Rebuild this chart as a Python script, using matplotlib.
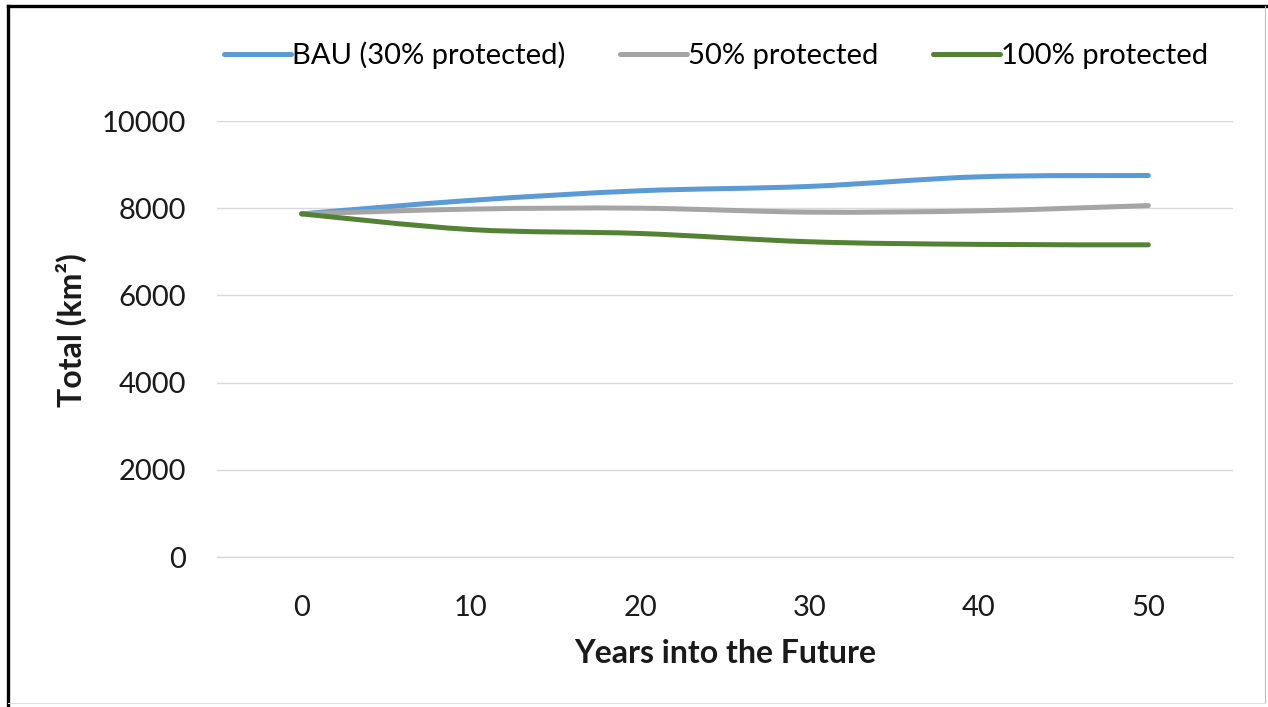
import numpy as np
import matplotlib
matplotlib.use("Agg")
import matplotlib.pyplot as plt
from matplotlib.path import Path
from matplotlib.patches import PathPatch
from matplotlib.lines import Line2D

plt.rcParams["font.family"] = ["Lato", "DejaVu Sans"]

years = [0, 10, 20, 30, 40, 50]
bau_30 = [7870, 8180, 8400, 8500, 8720, 8750]
prot_50 = [7870, 7980, 8000, 7910, 7940, 8060]
prot_100 = [7870, 7510, 7420, 7230, 7170, 7160]

series_names = ["BAU (30% protected)", "50% protected", "100% protected"]
series_colors = ["#5B9BD5", "#A5A5A5", "#548235"]


def smooth_path(xs, ys):
    # Excel-style smoothed line: Catmull-Rom segments as cubic Beziers
    pts = np.column_stack([xs, ys]).astype(float)
    ext = np.vstack([pts[0], pts, pts[-1]])
    verts = [pts[0]]
    codes = [Path.MOVETO]
    for i in range(1, len(ext) - 2):
        p0, p1, p2, p3 = ext[i - 1], ext[i], ext[i + 1], ext[i + 2]
        c1 = p1 + (p2 - p0) / 6.0
        c2 = p2 - (p3 - p1) / 6.0
        verts += [c1, c2, p2]
        codes += [Path.CURVE4] * 3
    return Path(verts, codes)


fig = plt.figure(figsize=(12.68, 7.07), dpi=100, facecolor="#FFFFFF")
ax = fig.add_axes([217 / 1268, 1 - 557 / 707, (1233 - 217) / 1268, (557 - 121) / 707])

xpos = np.arange(len(years))
for vals, color in zip([bau_30, prot_50, prot_100], series_colors):
    patch = PathPatch(smooth_path(xpos, vals), facecolor="none", edgecolor=color,
                      linewidth=3.6, capstyle="round", joinstyle="round", zorder=3)
    ax.add_patch(patch)

ax.set_xlim(-0.5, len(years) - 0.5)
ax.set_ylim(0, 10000)
ax.set_yticks(np.arange(0, 10001, 2000))
ax.set_xticks(xpos)
ax.set_xticklabels([str(y) for y in years])
ax.tick_params(axis="both", length=0, labelsize=21, colors="#1A1A1A")
ax.tick_params(axis="y", pad=22)
ax.tick_params(axis="x", pad=27)
ax.grid(True, axis="y", color="#D9D9D9", linewidth=1.0)
ax.set_axisbelow(True)
for side in ["top", "right", "left"]:
    ax.spines[side].set_visible(False)
ax.spines["bottom"].set_color("#D9D9D9")
ax.spines["bottom"].set_linewidth(1.0)

ax.set_xlabel("Years into the Future", fontsize=23, fontweight="bold", labelpad=13, color="#1A1A1A")
fig.text(71 / 1268, 1 - 330 / 707, "Total (km²)", rotation=90, ha="center", va="center",
         fontsize=23, fontweight="bold", color="#1A1A1A")

handles = [Line2D([], [], color=c, linewidth=3.6, solid_capstyle="round") for c in series_colors]
fig.legend(handles, series_names, loc="center", bbox_to_anchor=(716 / 1268, 1 - 55 / 707),
           ncol=3, frameon=False, fontsize=21, handlelength=2.3, handletextpad=0.05,
           columnspacing=1.85)

# outer frame of the pasted chart
fig.add_artist(Line2D([8 / 1268, 8 / 1268], [0, 1 - 6 / 707], color="#000000", linewidth=2.4))
fig.add_artist(Line2D([8 / 1268, 1266 / 1268], [1 - 6 / 707, 1 - 6 / 707], color="#000000", linewidth=2.4))
fig.add_artist(Line2D([1265 / 1268, 1265 / 1268], [1 - 703 / 707, 1 - 6 / 707], color="#BFBFBF", linewidth=0.8))
fig.add_artist(Line2D([8 / 1268, 1265 / 1268], [1 - 703 / 707, 1 - 703 / 707], color="#E0E0E0", linewidth=0.8))

fig.savefig("out.png", dpi=100, facecolor="#FFFFFF")
